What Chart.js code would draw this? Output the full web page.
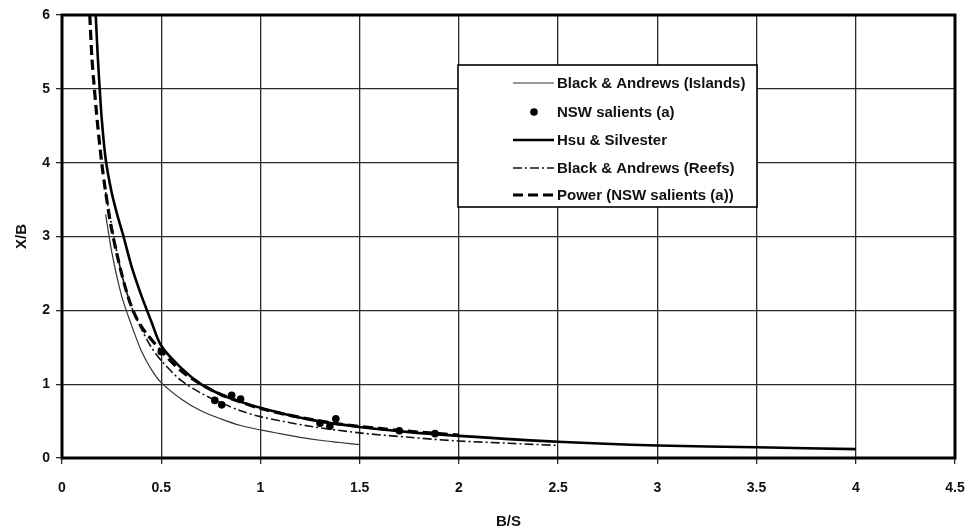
<!DOCTYPE html>
<html><head><meta charset="utf-8">
<script src="https://cdn.jsdelivr.net/npm/chart.js@4.4.1/dist/chart.umd.min.js"></script>
<style>html,body{margin:0;padding:0;background:#fff;}canvas{display:block;}</style>
</head><body>
<canvas id="c" width="968" height="532"></canvas>
<script>
// ---- data ----
const seriesNames = ['Black & Andrews (Islands)', 'NSW salients (a)', 'Hsu & Silvester', 'Black & Andrews (Reefs)', 'Power (NSW salients (a))'];

const islandsX = [0.22,0.25,0.3,0.35,0.4,0.45,0.5,0.6,0.7,0.8,0.9,1.0,1.1,1.2,1.3,1.4,1.5];
const islandsY = [3.3,2.8,2.2,1.8,1.45,1.2,1.02,0.8,0.64,0.53,0.44,0.38,0.33,0.28,0.24,0.21,0.18];

const nswX = [0.5,0.77,0.805,0.855,0.9,1.3,1.35,1.38,1.7,1.88];
const nswY = [1.44,0.78,0.72,0.85,0.8,0.47,0.43,0.53,0.37,0.33];

const hsuX = [0.17,0.18,0.19,0.2,0.22,0.25,0.28,0.31,0.35,0.4,0.45,0.5,0.6,0.7,0.8,0.9,1.0,1.25,1.5,1.75,2.0,2.5,3.0,3.5,4.0];
const hsuY = [6.0,5.45,5.0,4.6,4.05,3.6,3.28,3.0,2.6,2.2,1.85,1.52,1.22,1.0,0.86,0.76,0.68,0.52,0.42,0.35,0.3,0.22,0.17,0.145,0.12];

const reefsX = [0.22,0.25,0.3,0.35,0.4,0.45,0.5,0.6,0.7,0.8,0.9,1.0,1.25,1.5,1.75,2.0,2.25,2.5];
const reefsY = [3.6,3.15,2.5,2.05,1.75,1.5,1.32,1.05,0.88,0.75,0.64,0.56,0.43,0.34,0.28,0.23,0.2,0.17];

const powerX = [0.14,0.15,0.16,0.18,0.2,0.22,0.25,0.3,0.35,0.4,0.5,0.6,0.7,0.8,0.9,1.0,1.2,1.4,1.6,1.8,2.0];
const powerY = [6.0,5.45,5.1,4.5,4.0,3.6,3.1,2.5,2.05,1.78,1.45,1.18,1.0,0.86,0.76,0.67,0.55,0.46,0.4,0.35,0.31];

const xTickLabels = ['0','0.5','1','1.5','2','2.5','3','3.5','4','4.5'];
const yTickLabels = ['0','1','2','3','4','5','6'];
const xTitle = 'B/S';
const yTitle = 'X/B';

function pts(xs, ys){ return xs.map((x,i)=>({x:x, y:ys[i]})); }

const FONT = "'Liberation Sans', Arial, sans-serif";

const datasets = [
  {label: seriesNames[0], data: pts(islandsX, islandsY), showLine: true, borderColor: '#333', borderWidth: 1.2, pointRadius: 0, tension: 0.3, fill:false},
  {label: seriesNames[1], data: pts(nswX, nswY), showLine: false, backgroundColor: '#000', borderColor: '#000', pointRadius: 3.8, pointBorderWidth: 0},
  {label: seriesNames[2], data: pts(hsuX, hsuY), showLine: true, borderColor: '#000', borderWidth: 2.6, pointRadius: 0, tension: 0.3, fill:false},
  {label: seriesNames[3], data: pts(reefsX, reefsY), showLine: true, borderColor: '#111', borderWidth: 1.6, borderDash: [9,3,2,3], pointRadius: 0, tension: 0.3, fill:false},
  {label: seriesNames[4], data: pts(powerX, powerY), showLine: true, borderColor: '#000', borderWidth: 3.2, borderDash: [10,5], pointRadius: 0, tension: 0.3, fill:false}
];

const framePlugin = {
  id: 'frame',
  afterDatasetsDraw(chart){
    const {ctx, chartArea: a} = chart;
    ctx.save();
    ctx.strokeStyle = '#000';
    ctx.lineWidth = 3;
    ctx.strokeRect(a.left, a.top, a.right - a.left, a.bottom - a.top);
    ctx.restore();
  }
};

const legendPlugin = {
  id: 'customLegend',
  afterDraw(chart){
    const ctx = chart.ctx;
    const bx = 458, by = 65, bw = 299, bh = 142;
    ctx.save();
    ctx.fillStyle = '#fff';
    ctx.fillRect(bx, by, bw, bh);
    ctx.strokeStyle = '#000';
    ctx.lineWidth = 1.6;
    ctx.strokeRect(bx, by, bw, bh);
    const rowY = [83, 112, 140, 168, 195];
    const ds = chart.data.datasets;
    ctx.font = "bold 15px " + FONT;
    ctx.textBaseline = 'middle';
    ctx.textAlign = 'left';
    ds.forEach((d, i) => {
      const y = rowY[i];
      if (d.showLine) {
        ctx.beginPath();
        ctx.strokeStyle = d.borderColor;
        ctx.lineWidth = d.borderWidth;
        ctx.setLineDash(d.borderDash || []);
        ctx.moveTo(513, y); ctx.lineTo(554, y);
        ctx.stroke();
        ctx.setLineDash([]);
      } else {
        ctx.beginPath();
        ctx.fillStyle = d.backgroundColor;
        ctx.arc(534, y, d.pointRadius, 0, Math.PI*2);
        ctx.fill();
      }
      ctx.fillStyle = '#111';
      ctx.fillText(d.label, 557, y + 1);
    });
    ctx.restore();
  }
};

new Chart(document.getElementById('c'), {
  type: 'scatter',
  data: { datasets },
  options: {
    responsive: false,
    animation: false,
    layout: { padding: { left: 0, right: 13, top: 15, bottom: 0 } },
    plugins: { legend: { display: false }, tooltip: { enabled: false } },
    scales: {
      x: {
        type: 'linear', min: 0, max: 4.5,
        afterFit(s){ s.height = 74; s.paddingLeft = 0; s.paddingRight = 0; },
        ticks: { stepSize: 0.5, color: '#111', padding: 16, maxRotation: 0,
          font: { family: FONT, size: 14, weight: 'bold' },
          callback: (v) => { const l = xTickLabels.find(t => Math.abs(Number(t) - v) < 1e-9); return l === undefined ? '' : l; } },
        grid: { color: '#2a2a2a', lineWidth: 1.3, tickLength: 6, drawTicks: true },
        border: { display: false },
        title: { display: true, text: xTitle, color: '#111', padding: { top: 0, bottom: 1 },
          font: { family: FONT, size: 15, weight: 'bold' } }
      },
      y: {
        type: 'linear', min: 0, max: 6,
        afterFit(s){ s.width = 62; s.paddingTop = 0; s.paddingBottom = 0; },
        ticks: { stepSize: 1, color: '#111', padding: 6,
          font: { family: FONT, size: 14, weight: 'bold' },
          callback: (v) => { const l = yTickLabels.find(t => Math.abs(Number(t) - v) < 1e-9); return l === undefined ? '' : l; } },
        grid: { color: '#2a2a2a', lineWidth: 1.3, tickLength: 6, drawTicks: true },
        border: { display: false },
        title: { display: true, text: yTitle, color: '#111', padding: { top: 13, bottom: 0 },
          font: { family: FONT, size: 15, weight: 'bold' } }
      }
    }
  },
  plugins: [framePlugin, legendPlugin]
});
</script></body></html>
